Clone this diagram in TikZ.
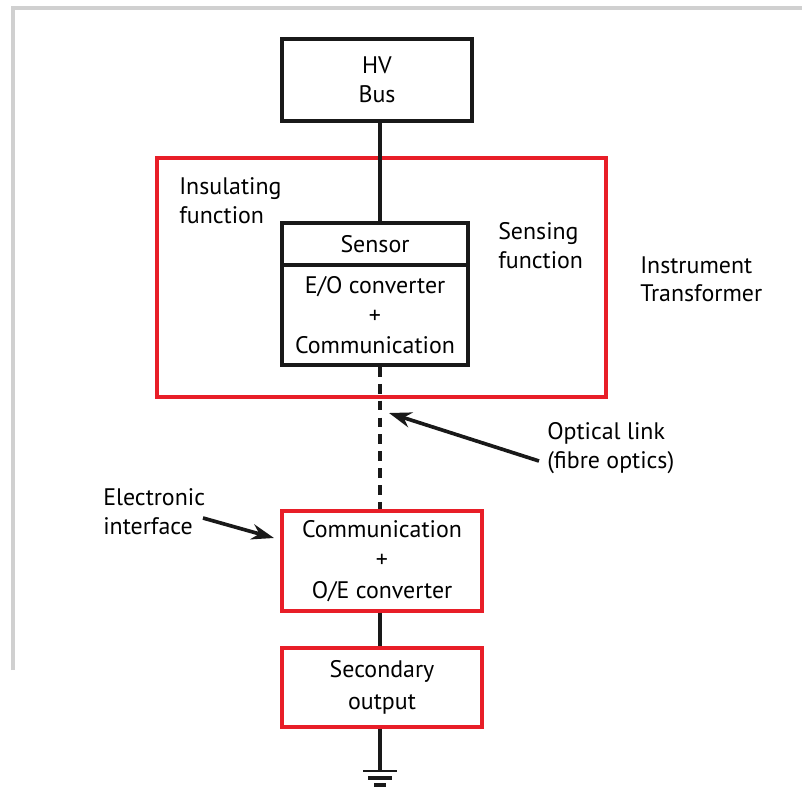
\documentclass[tikz,border=0pt]{standalone}
\usepackage{fontspec}
\setmainfont{PT Sans}
\usetikzlibrary{arrows.meta,calc}
\definecolor{frameg}{RGB}{208,208,208}
\definecolor{redb}{RGB}{232,30,40}
\begin{document}
\begin{tikzpicture}[x=0.025cm,y=-0.025cm,
  every node/.style={font=\fontsize{17}{20.5}\selectfont, inner sep=0pt},
  blk/.style={draw=black!90, line width=2.7pt, align=center, minimum width=#1*0.025cm},
  rblk/.style={draw=redb, line width=2.2pt, align=center, minimum width=#1*0.025cm},
  lbl/.style={align=left, anchor=north west},
  wire/.style={line width=2.7pt, black!90},
  ptr/.style={line width=2.6pt, black!90, -{Stealth[length=16pt,width=11pt]}}]
\useasboundingbox (0,0) rectangle (802,802);
% frame
\draw[frameg, line width=2.4pt] (13,670) -- (13,8) -- (802,8);
% instrument transformer red box
\node[draw=redb, line width=2.2pt, minimum width=449*0.025cm, minimum height=239*0.025cm] (it) at (381.5,277.5) {};
% boxes
\node[blk=190, minimum height=82*0.025cm] (hv) at (377,80) {HV\\Bus};
\node[blk=186, minimum height=42*0.025cm] (sensor) at (375,244) {Sensor};
\node[blk=186, minimum height=100*0.025cm] (eo) at (375,315) {E/O converter\\[1pt]+\\[1pt]Communication};
\node[rblk=200, minimum height=100*0.025cm] (comm) at (382,561) {Communication\\[1pt]+\\[1pt]O/E converter};
\node[rblk=200, minimum height=79*0.025cm] (sec) at (382,687.5) {Secondary\\[2pt]output};
% vertical axis
\coordinate (lx) at (380,0);
\coordinate (gnd) at (380,771);
\draw[wire] (hv.south -| lx) -- (sensor.north -| lx);
\draw[wire, dash pattern=on 7pt off 5pt] (eo.south -| lx) -- (comm.north -| lx);
\draw[wire] (comm.south -| lx) -- (sec.north -| lx);
\draw[wire] (sec.south -| lx) -- (gnd);
% ground symbol
\draw[line width=1.8pt, black!90] ($(gnd)+(-17,0)$) -- ($(gnd)+(17,0)$);
\draw[line width=2.6pt, black!90] ($(gnd)+(-12,7)$) -- ($(gnd)+(12,7)$);
\draw[line width=2.6pt, black!90] ($(gnd)+(-6,14)$) -- ($(gnd)+(6,14)$);
% labels
\node[lbl] (ins) at (179,177) {Insulating\\function};
\node[lbl] (sens) at (498,222) {Sensing\\function};
\node[lbl] (itl) at (640,256) {Instrument\\Transformer};
\node[lbl] (opt) at (547,422) {Optical link\\(fibre optics)};
\node[lbl] (elec) at (103,488) {Electronic\\interface};
% pointer arrows
\coordinate (opttail) at (539,461);
\coordinate (opttip) at (389,413);
\coordinate (eltail) at (203,518);
\coordinate (eltip) at (274,538);
\draw[ptr] (opttail) -- (opttip);
\draw[ptr] (eltail) -- (eltip);
\end{tikzpicture}
\end{document}
